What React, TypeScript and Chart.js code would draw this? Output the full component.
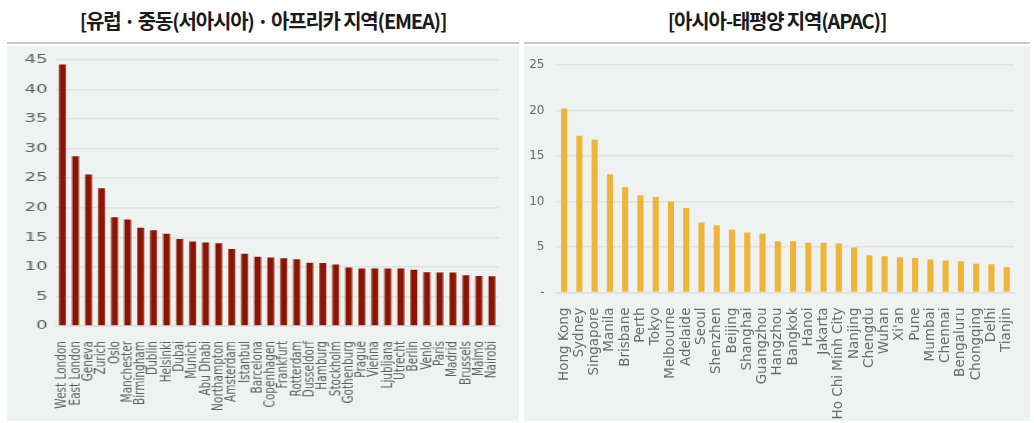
import React, { useEffect, useRef } from 'react';
import { Chart, registerables } from 'chart.js';

Chart.register(...registerables);

const emeaTitle = '[유럽 · 중동(서아시아) · 아프리카 지역(EMEA)]';
const apacTitle = '[아시아-태평양 지역(APAC)]';

const emeaCities = [
  'West London', 'East London', 'Geneva', 'Zurich', 'Oslo', 'Manchester', 'Birmingham',
  'Dublin', 'Helsinki', 'Dubai', 'Munich', 'Abu Dhabi', 'Northampton', 'Amsterdam',
  'Istanbul', 'Barcelona', 'Copenhagen', 'Frankfurt', 'Rotterdam', 'Dusseldorf', 'Hamburg',
  'Stockholm', 'Gothenburg', 'Prague', 'Vienna', 'Ljubljana', 'Utrecht', 'Berlin', 'Venlo',
  'Paris', 'Madrid', 'Brussels', 'Malmo', 'Nairobi',
];
const emeaValues = [
  44.2, 28.7, 25.6, 23.3, 18.4, 18.0, 16.6,
  16.2, 15.6, 14.7, 14.3, 14.1, 14.0, 13.0,
  12.2, 11.7, 11.6, 11.45, 11.3, 10.7, 10.65,
  10.4, 9.9, 9.7, 9.7, 9.7, 9.7, 9.5, 9.1,
  9.05, 9.05, 8.6, 8.45, 8.4,
];

const apacCities = [
  'Hong Kong', 'Sydney', 'Singapore', 'Manila', 'Brisbane', 'Perth', 'Tokyo', 'Melbourne',
  'Adelaide', 'Seoul', 'Shenzhen', 'Beijing', 'Shanghai', 'Guangzhou', 'Hangzhou', 'Bangkok',
  'Hanoi', 'Jakarta', 'Ho Chi Minh City', 'Nanjing', 'Chengdu', 'Wuhan', "Xi'an", 'Pune',
  'Mumbai', 'Chennai', 'Bengaluru', 'Chongqing', 'Delhi', 'Tianjin',
];
const apacValues = [
  20.25, 17.25, 16.8, 13.0, 11.6, 10.7, 10.5, 10.0,
  9.3, 7.7, 7.4, 6.9, 6.6, 6.45, 5.65, 5.65,
  5.47, 5.47, 5.4, 4.94, 4.09, 3.98, 3.87, 3.8,
  3.63, 3.52, 3.45, 3.16, 3.1, 2.8,
];

const emeaAxisMax = 45;
const apacAxisMax = 25;
const tickStep = 5;
const apacZeroLabel = '-';

const PANEL_BG = '#eef2f1';
const GRID = '#dde3e2';

type PanelProps = {
  labels: string[];
  values: number[];
  color: string;
  max: number;
  zeroLabel?: string;
  width: number;
  height: number;
  stretch: number;
  yWidth: number;
  xHeight: number;
  padTop: number;
  padRight: number;
  barPct: number;
  xFont: number;
  yFont: number;
  xPad: number;
  yPad: number;
  tickColor: string;
};

function BarPanel(p: PanelProps) {
  const ref = useRef<HTMLCanvasElement | null>(null);
  useEffect(() => {
    if (!ref.current) return;
    const chart = new Chart(ref.current, {
      type: 'bar',
      data: {
        labels: p.labels,
        datasets: [
          {
            data: p.values,
            backgroundColor: p.color,
            barPercentage: p.barPct,
            categoryPercentage: 1,
          },
        ],
      },
      options: {
        animation: false,
        responsive: false,
        maintainAspectRatio: false,
        layout: { padding: { top: p.padTop, right: p.padRight, left: 0, bottom: 0 } },
        plugins: { legend: { display: false }, tooltip: { enabled: false }, title: { display: false } },
        scales: {
          x: {
            grid: { display: false },
            border: { display: true, color: GRID, width: 1.5 },
            ticks: {
              autoSkip: false,
              minRotation: 90,
              maxRotation: 90,
              padding: p.xPad,
              color: p.tickColor,
              font: { family: 'DejaVu Sans', size: p.xFont },
            },
            afterFit: (s: any) => {
              s.height = p.xHeight;
            },
          },
          y: {
            min: 0,
            max: p.max,
            border: { display: false },
            grid: { color: GRID, lineWidth: 1.5, drawTicks: false },
            ticks: {
              stepSize: tickStep,
              padding: p.yPad,
              color: p.tickColor,
              font: { family: 'DejaVu Sans', size: p.yFont },
              callback: (v: any) => (Number(v) === 0 && p.zeroLabel ? p.zeroLabel : String(v)),
            },
            afterFit: (s: any) => {
              s.width = p.yWidth;
            },
          },
        },
      },
    });
    return () => chart.destroy();
  }, []);
  return (
    <div
      style={{
        width: p.width,
        height: p.height,
        transform: `scaleX(${p.stretch})`,
        transformOrigin: '0 0',
      }}
    >
      <canvas ref={ref} width={p.width} height={p.height} style={{ width: p.width, height: p.height, display: 'block' }} />
    </div>
  );
}

const titleStyle: React.CSSProperties = {
  position: 'absolute',
  top: 6,
  height: 30,
  lineHeight: '30px',
  textAlign: 'center',
  fontFamily: '"Noto Sans CJK KR", "Noto Sans", sans-serif',
  fontSize: 20,
  fontWeight: 600,
  letterSpacing: -1.2,
  color: '#1a1a1a',
};

export default function App() {
  return (
    <div style={{ position: 'absolute', left: 0, top: 0, width: 1034, height: 423, background: '#fff', overflow: 'hidden' }}>
      <div style={{ ...titleStyle, left: 7, width: 512 }}>{emeaTitle}</div>
      <div style={{ ...titleStyle, left: 524, width: 506 }}>{apacTitle}</div>
      <div style={{ position: 'absolute', left: 7, top: 42, width: 512, height: 1.5, background: '#c9c9c9' }} />
      <div style={{ position: 'absolute', left: 524, top: 42, width: 506, height: 1.5, background: '#c9c9c9' }} />
      <div style={{ position: 'absolute', left: 7, top: 46, width: 512, height: 375, background: PANEL_BG, overflow: 'hidden' }}>
        <BarPanel
          labels={emeaCities}
          values={emeaValues}
          color="#8b1505"
          max={emeaAxisMax}
          width={366}
          height={375}
          stretch={1.4}
          yWidth={35}
          xHeight={95}
          padTop={13}
          padRight={3}
          barPct={0.52}
          xFont={10.5}
          yFont={13}
          xPad={7}
          yPad={6}
          tickColor="#606060"
        />
      </div>
      <div style={{ position: 'absolute', left: 524, top: 46, width: 506, height: 375, background: PANEL_BG, overflow: 'hidden' }}>
        <BarPanel
          labels={apacCities}
          values={apacValues}
          color="#efb43a"
          max={apacAxisMax}
          zeroLabel={apacZeroLabel}
          width={506}
          height={375}
          stretch={1}
          yWidth={32.5}
          xHeight={128.5}
          padTop={11.3}
          padRight={5.2}
          barPct={0.4}
          xFont={13.5}
          yFont={12}
          xPad={7}
          yPad={12}
          tickColor="#6a6a6a"
        />
      </div>
    </div>
  );
}
